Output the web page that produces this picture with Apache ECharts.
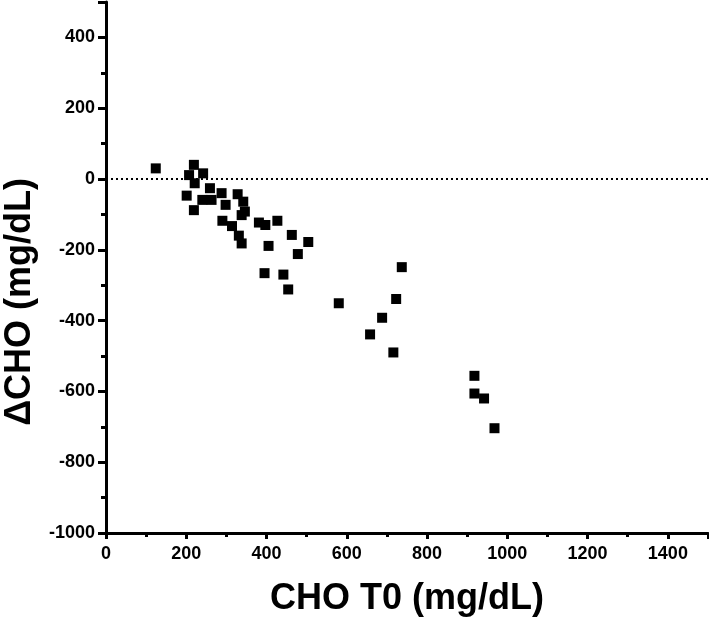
<!DOCTYPE html>
<html>
<head>
<meta charset="utf-8">
<script src="https://cdn.jsdelivr.net/npm/echarts@6/dist/echarts.min.js"></script>
<style>
  html, body { margin: 0; padding: 0; background: #fff; }
  #main { width: 709px; height: 618px; }
</style>
</head>
<body>
<div id="main"></div>
<script>
// CHO at T0 (mg/dL)
const choT0 = [124, 219, 207, 242, 221, 201, 219, 259, 240, 263, 288, 298, 328, 342, 346, 338,
  290, 314, 331, 338, 381, 397, 427, 463, 405, 504, 478, 395, 442, 454,
  580, 737, 723, 688, 658, 716, 918, 918, 942, 968];
// change in CHO (mg/dL)
const deltaCho = [30, 40, 11, 16, -12, -47, -88, -26, -59, -59, -40, -73, -43, -64, -92, -102,
  -118, -133, -160, -182, -123, -130, -118, -158, -189, -178, -212, -266, -270, -312,
  -351, -249, -339, -392, -439, -490, -556, -606, -620, -704];

const points = choT0.map((x, i) => [x, deltaCho[i]]);

const font = 'Liberation Sans, Arial, Helvetica, sans-serif';
const chart = echarts.init(document.getElementById('main'));
chart.setOption({
  animation: false,
  grid: { left: 106, right: 1, top: 2, bottom: 85, outerBoundsMode: 'none', containLabel: false },
  graphic: [{
    type: 'text',
    left: 2, top: 178,
    rotation: Math.PI / 2,
    style: {
      text: 'ΔCHO (mg/dL)',
      font: 'bold 36px ' + font,
      fill: '#000'
    }
  }],
  xAxis: {
    type: 'value', min: 0, max: 1500, interval: 200,
    name: 'CHO T0 (mg/dL)', nameLocation: 'middle', nameGap: 48,
    nameTextStyle: { fontFamily: font, fontWeight: 'bold', fontSize: 36, color: '#000' },
    axisLine: { onZero: false, lineStyle: { color: '#000', width: 3 } },
    axisTick: { length: 6, lineStyle: { width: 3, color: '#000' } },
    minorTick: { show: true, splitNumber: 2, length: 4, lineStyle: { width: 3, color: '#000' } },
    axisLabel: {
      fontFamily: font, fontWeight: 'bold', fontSize: 18, color: '#000', margin: 12,
      showMaxLabel: false,
      formatter: v => (v > 1400 ? '' : String(v))
    },
    splitLine: { show: false }
  },
  yAxis: {
    type: 'value', min: -1000, max: 500, interval: 200,
    axisLine: { onZero: false, lineStyle: { color: '#000', width: 3 } },
    axisTick: { length: 8, lineStyle: { width: 3, color: '#000' } },
    minorTick: { show: true, splitNumber: 2, length: 5, lineStyle: { width: 3, color: '#000' } },
    axisLabel: {
      fontFamily: font, fontWeight: 'bold', fontSize: 18, color: '#000', margin: 11,
      showMaxLabel: false,
      formatter: v => (v > 400 ? '' : String(v))
    },
    splitLine: { show: false }
  },
  series: [{
    type: 'scatter',
    data: points,
    symbol: 'rect',
    symbolSize: 10,
    itemStyle: { color: '#000', opacity: 1 },
    markLine: {
      silent: true,
      symbol: 'none',
      label: { show: false },
      lineStyle: { color: '#000', width: 2, type: [2, 3] },
      data: [{ yAxis: 0 }]
    }
  }]
});
</script>
</body>
</html>
